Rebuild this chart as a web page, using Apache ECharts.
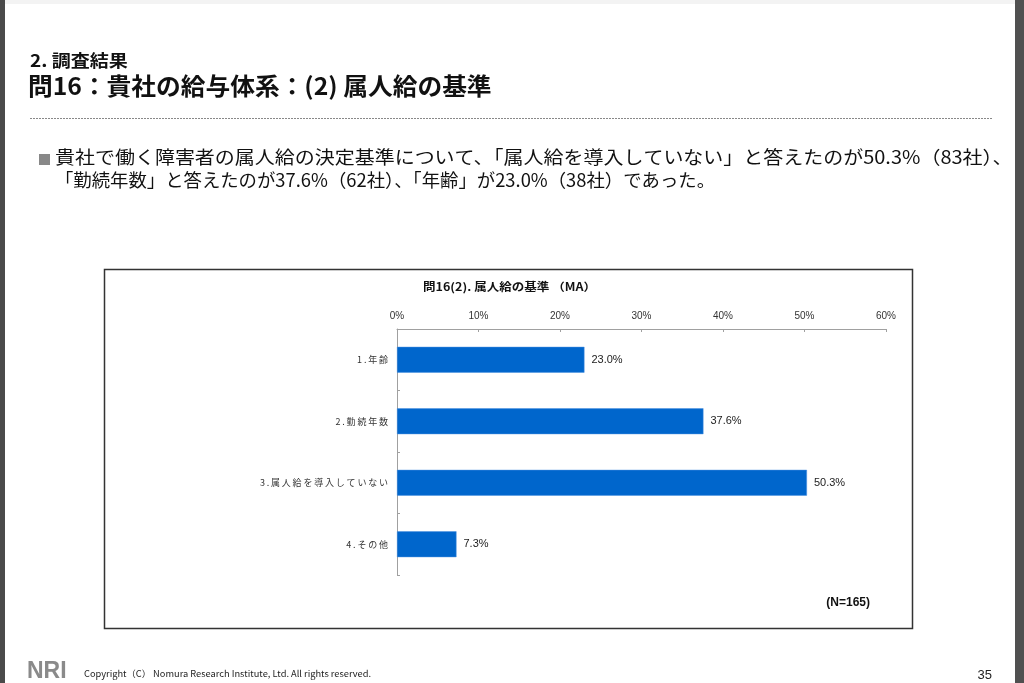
<!DOCTYPE html>
<html><head><meta charset="utf-8">
<script src="https://cdn.jsdelivr.net/npm/echarts@6/dist/echarts.min.js"></script>
<style>html,body{margin:0;padding:0;background:#fff}#c{width:1024px;height:683px}</style>
</head><body><div id="c"></div>
<script>
const categories = ['1.年齢', '2.勤続年数', '3.属人給を導入していない', '4.その他'];
const values = [23.0, 37.6, 50.3, 7.3];
const axisTicks = [0, 10, 20, 30, 40, 50, 60];
const chartTitle = '問16(2). 属人給の基準 （MA）';
const sampleNote = '(N=165)';
const sectionLabel = '2. 調査結果';
const slideTitle = '問16：貴社の給与体系：(2) 属人給の基準';
const bulletLine1 = '貴社で働く障害者の属人給の決定基準について、「属人給を導入していない」と答えたのが50.3%（83社）、';
const bulletLine2 = '「勤続年数」と答えたのが37.6%（62社）、「年齢」が23.0%（38社）であった。';
const copyright = 'Copyright（C） Nomura Research Institute, Ltd. All rights reserved.';
const pageNo = '35';

const jp = '"Noto Sans CJK JP", "Liberation Sans", sans-serif';
const lat = '"Liberation Sans", Arial, sans-serif';
const chart = echarts.init(document.getElementById('c'), null, {renderer: 'canvas'});
chart.setOption({
  backgroundColor: '#ffffff',
  animation: false,
  grid: {left: 397, right: 138, top: 329, bottom: 108, containLabel: false},
  xAxis: {
    type: 'value', position: 'top', min: axisTicks[0], max: axisTicks[axisTicks.length - 1], interval: 10,
    axisLine: {show: true, lineStyle: {color: '#a0a0a0', width: 1}},
    axisTick: {show: true, inside: true, length: 3, lineStyle: {color: '#a0a0a0'}},
    splitLine: {show: false},
    axisLabel: {formatter: '{value}%', color: '#333', fontSize: 10, fontFamily: lat, margin: 8}
  },
  yAxis: {
    type: 'category', data: categories, inverse: true,
    axisLine: {show: true, lineStyle: {color: '#a0a0a0', width: 1}},
    axisTick: {show: true, inside: true, length: 3, lineStyle: {color: '#a0a0a0'}},
    axisLabel: {color: '#333', fontSize: 9, fontFamily: jp, margin: 9,
      formatter: v => v.split('').join('\u2009')}
  },
  series: [{
    type: 'bar', data: values, barWidth: '42%',
    itemStyle: {color: '#0066CC', borderColor: '#4a90e0', borderWidth: 0.5},
    label: {show: true, position: 'right', distance: 7, formatter: p => p.value.toFixed(1) + '%',
      color: '#222', fontSize: 11, fontFamily: lat}
  }],
  graphic: [
    {type: 'rect', shape: {x: 0, y: 0, width: 1024, height: 4}, style: {fill: '#f3f3f3'}, z: -1},
    {type: 'rect', shape: {x: 0, y: 0, width: 5, height: 683}, style: {fill: '#4a4a4a'}},
    {type: 'rect', shape: {x: 1015, y: 0, width: 9, height: 683}, style: {fill: '#505050'}},
    {type: 'text', x: 30, y: 52, scaleX: 1.12, style: {text: sectionLabel, font: 'bold 17px ' + jp, fill: '#111'}},
    {type: 'text', x: 28, y: 74, scaleX: 1.03, style: {text: slideTitle, font: 'bold 24px ' + jp, fill: '#111'}},
    {type: 'line', shape: {x1: 30, y1: 118.5, x2: 992, y2: 118.5}, style: {stroke: '#888', lineWidth: 1, lineDash: [2, 1]}},
    {type: 'rect', shape: {x: 39, y: 154, width: 11, height: 11}, style: {fill: '#888'}},
    {type: 'text', x: 55, y: 148, scaleX: 1.11, style: {text: bulletLine1, font: '18px ' + jp, fill: '#111'}},
    {type: 'text', x: 55, y: 171, scaleX: 1.02, style: {text: bulletLine2, font: '18px ' + jp, fill: '#111'}},
    {type: 'rect', shape: {x: 104.5, y: 269.5, width: 808, height: 359}, style: {fill: 'none', stroke: '#333', lineWidth: 1.5}, z: -1},
    {type: 'text', x: 423, y: 281, scaleX: 1.14, style: {text: chartTitle, font: 'bold 11px ' + jp, fill: '#111'}},
    {type: 'text', x: 870, y: 603, style: {text: sampleNote, font: 'bold 12px ' + lat, fill: '#111', textAlign: 'right', textVerticalAlign: 'middle'}},
    {type: 'text', x: 27, y: 672, style: {text: 'NRI', font: 'bold 23px ' + lat, fill: '#8a8a8a', textVerticalAlign: 'middle'}},
    {type: 'text', x: 84, y: 669, scaleX: 1.03, style: {text: copyright, font: '9px ' + jp, fill: '#222'}},
    {type: 'text', x: 992, y: 675, style: {text: pageNo, font: '13px ' + lat, fill: '#222', textAlign: 'right', textVerticalAlign: 'middle'}}
  ]
});
</script></body></html>
